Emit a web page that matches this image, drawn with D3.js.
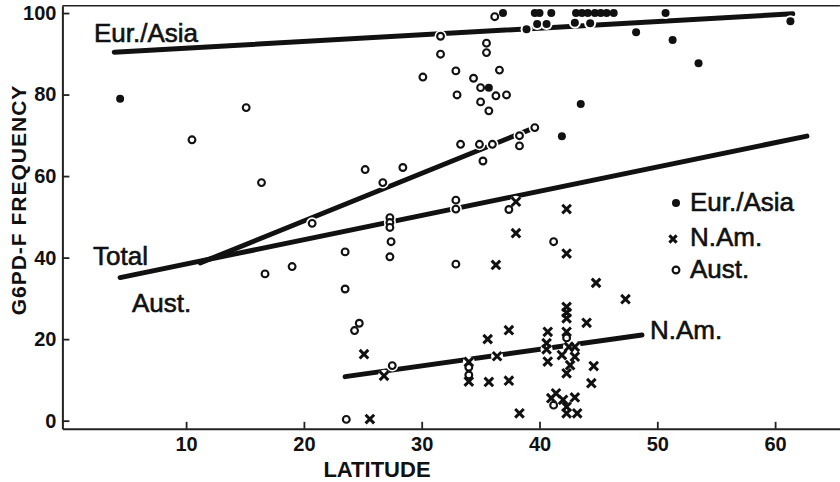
<!DOCTYPE html>
<html>
<head>
<meta charset="utf-8">
<script src="https://cdn.jsdelivr.net/npm/d3@7"></script>
<style>
  body { margin: 0; background: #fff; }
  svg { display: block; }
  text { font-family: "Liberation Sans", Arial, sans-serif; fill: #111; }
</style>
</head>
<body>
<div id="chart"></div>
<script>
// Data: [latitude, G6PD-F frequency]
const eurAsia = [
  [4.4, 79.0], [35.7, 81.7], [36.9, 100], [39.6, 100], [40.0, 100], [41.0, 100],
  [43.1, 100], [43.6, 100], [44.1, 100], [44.7, 100], [45.2, 100], [45.7, 100], [46.3, 100],
  [50.7, 100], [38.9, 96.0], [39.8, 97.3], [40.6, 97.3], [43.0, 97.6], [44.3, 97.5],
  [48.2, 95.3], [51.3, 93.4], [53.5, 87.7], [61.3, 98.0], [43.5, 77.7], [41.9, 69.8]
];
const nAm = [
  [25.1, 16.3], [26.8, 11.0], [25.6, 0.4], [34.0, 14.4], [34.0, 9.6],
  [35.6, 20.0], [36.4, 15.8], [35.7, 9.5], [37.4, 22.2], [37.4, 9.8], [38.3, 1.8],
  [38.0, 53.7], [38.0, 46.0], [36.3, 38.2],
  [40.7, 21.8], [40.6, 19.0], [40.6, 17.5], [40.7, 14.5],
  [42.3, 27.9], [42.3, 26.5], [42.3, 25.1], [42.3, 21.8], [42.5, 18.1], [43.0, 18.1],
  [41.9, 16.1], [43.0, 15.7], [42.6, 13.6], [42.3, 11.6],
  [44.0, 24.0], [44.6, 13.4], [44.4, 9.2], [44.8, 33.8], [47.3, 29.8], [42.3, 51.9], [42.3, 41.0],
  [41.4, 6.7], [41.0, 5.5], [42.0, 5.1], [43.0, 5.7], [42.3, 3.4], [42.3, 1.8], [43.2, 1.8]
];
const aust = [
  [10.5, 68.9], [15.1, 76.8], [16.4, 58.4], [16.7, 36.0], [19.0, 37.8], [20.7, 48.4],
  [23.5, 41.4], [23.5, 32.3], [23.6, 0.3], [24.3, 22.1], [24.7, 23.9],
  [25.2, 61.6], [26.7, 58.4], [28.4, 62.1],
  [27.3, 49.8], [27.3, 48.6], [27.3, 47.4], [27.4, 43.9], [27.3, 40.2], [27.5, 13.5],
  [30.1, 84.3], [31.6, 94.3], [31.6, 89.9], [32.9, 85.8], [33.0, 79.9],
  [32.9, 54.1], [32.9, 51.9], [32.9, 38.4],
  [33.3, 67.8], [34.4, 84.0], [35.0, 81.7], [35.0, 78.2], [34.9, 67.8], [35.2, 63.7],
  [35.5, 92.6], [35.5, 90.3], [35.7, 76.0], [36.0, 67.8], [36.2, 99.1], [36.3, 79.7],
  [36.6, 86.0], [37.2, 79.9], [37.4, 51.8], [38.3, 69.9], [38.3, 67.4], [39.6, 71.9],
  [41.2, 43.9], [34.0, 13.1], [34.0, 11.2], [41.2, 3.8], [42.3, 20.3]
];

// fitted lines: [[lat0, f0], [lat1, f1]]
const fitEurAsia = [[3.9, 90.4], [61.5, 99.8]];
const fitTotal = [[4.4, 35.1], [62.7, 69.8]];
const fitAust = [[11.2, 38.7], [39.6, 71.9]];
const fitNAm = [[23.5, 10.8], [48.7, 21.0]];

const xTicks = [10, 20, 30, 40, 50, 60];
const yTicks = [0, 20, 40, 60, 80, 100];

const width = 840;
const height = 482;

const x = d3.scaleLinear().domain([-0.5, 65.5]).range([62.4, 839.9]);
const y = d3.scaleLinear().domain([-2, 101.8]).range([428.8, 5.7]);

const svg = d3.select("#chart")
  .append("svg")
  .attr("width", width)
  .attr("height", height);

// frame: top line
svg.append("line")
  .attr("x1", x(-0.5)).attr("x2", x(65.5))
  .attr("y1", y(101.8)).attr("y2", y(101.8))
  .attr("stroke", "#222").attr("stroke-width", 1.6);

// axes
const xAxis = svg.append("g")
  .attr("transform", `translate(0,${y(-2)})`)
  .call(d3.axisBottom(x).tickValues(xTicks).tickSizeInner(-7).tickSizeOuter(0).tickPadding(8));
const yAxis = svg.append("g")
  .attr("transform", `translate(${x(-0.5)},0)`)
  .call(d3.axisLeft(y).tickValues(yTicks).tickSizeInner(-7).tickSizeOuter(0).tickPadding(6));

[xAxis, yAxis].forEach(g => {
  g.select(".domain").attr("stroke", "#222").attr("stroke-width", 2);
  g.selectAll(".tick line").attr("stroke", "#222").attr("stroke-width", 1.8);
  g.selectAll(".tick text")
    .attr("fill", "#111")
    .style("font-family", "'Liberation Sans', Arial, sans-serif")
    .style("font-size", "20px")
    .style("font-weight", "bold");
});

// axis titles
svg.append("text")
  .attr("x", 377).attr("y", 477)
  .attr("text-anchor", "middle")
  .style("font-size", "22px").style("font-weight", "bold")
  .text("LATITUDE");

svg.append("text")
  .attr("transform", "translate(26,200) rotate(-90)")
  .attr("text-anchor", "middle")
  .style("font-size", "21px").style("font-weight", "bold")
  .style("letter-spacing", "1px")
  .text("G6PD-F FREQUENCY");

// regression lines
const line = d3.line().x(d => x(d[0])).y(d => y(d[1]));
svg.append("g")
  .selectAll("path")
  .data([fitEurAsia, fitTotal, fitAust, fitNAm])
  .join("path")
  .attr("d", line)
  .attr("fill", "none")
  .attr("stroke", "#111")
  .attr("stroke-width", 5)
  .attr("stroke-linecap", "round");

// white halos so marks break the lines
const allPts = eurAsia.concat(nAm, aust);
svg.append("g")
  .selectAll("circle")
  .data(allPts)
  .join("circle")
  .attr("cx", d => x(d[0]))
  .attr("cy", d => y(d[1]))
  .attr("r", 6)
  .attr("fill", "#fff");

// markers
svg.append("g")
  .selectAll("circle")
  .data(eurAsia)
  .join("circle")
  .attr("cx", d => x(d[0]))
  .attr("cy", d => y(d[1]))
  .attr("r", 4)
  .attr("fill", "#111");

svg.append("g")
  .selectAll("circle")
  .data(aust)
  .join("circle")
  .attr("cx", d => x(d[0]))
  .attr("cy", d => y(d[1]))
  .attr("r", 3.4)
  .attr("fill", "#fff")
  .attr("stroke", "#111")
  .attr("stroke-width", 2.1);

const cross = d3.symbol().type(d3.symbolX).size(50);
svg.append("g")
  .selectAll("path")
  .data(nAm)
  .join("path")
  .attr("transform", d => `translate(${x(d[0])},${y(d[1])})`)
  .attr("d", cross)
  .attr("fill", "none")
  .attr("stroke", "#111")
  .attr("stroke-width", 3);

// line labels
const lineLabels = [
  { text: "Eur./Asia", x: 94, y: 42 },
  { text: "Total", x: 93, y: 265 },
  { text: "Aust.", x: 132, y: 312 },
  { text: "N.Am.", x: 650, y: 339 }
];
svg.append("g")
  .selectAll("text")
  .data(lineLabels)
  .join("text")
  .attr("x", d => d.x)
  .attr("y", d => d.y)
  .style("font-size", "26px")
  .attr("stroke", "#111")
  .attr("stroke-width", 0.6)
  .text(d => d.text);

// legend
const legend = svg.append("g");
legend.append("circle").attr("cx", 676).attr("cy", 203).attr("r", 4).attr("fill", "#111");
legend.append("path").attr("transform", "translate(673,239)")
  .attr("d", d3.symbol().type(d3.symbolX).size(36))
  .attr("fill", "none").attr("stroke", "#111").attr("stroke-width", 3);
legend.append("circle").attr("cx", 676).attr("cy", 270).attr("r", 3.4).attr("fill", "#fff")
  .attr("stroke", "#111").attr("stroke-width", 2.1);
legend.selectAll("text")
  .data([["Eur./Asia", 211], ["N.Am.", 246], ["Aust.", 278]])
  .join("text")
  .attr("x", 690)
  .attr("y", d => d[1])
  .style("font-size", "26px")
  .attr("stroke", "#111")
  .attr("stroke-width", 0.6)
  .text(d => d[0]);
</script>
</body>
</html>
